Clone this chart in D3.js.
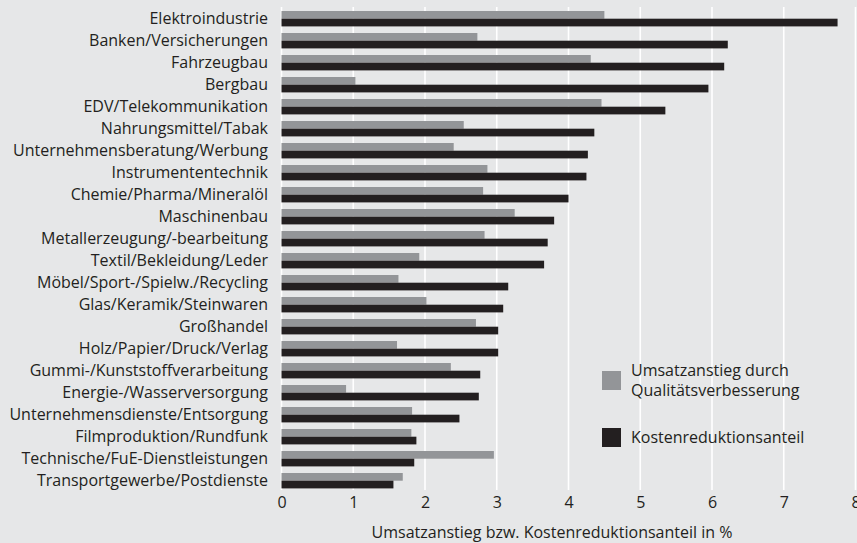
<!DOCTYPE html>
<html><head><meta charset="utf-8">
<script src="https://cdn.jsdelivr.net/npm/d3@7"></script>
<style>
html,body{margin:0;padding:0;background:#e6e7e8;}
svg{display:block;}
text{font-family:"Open Sans", Lato, sans-serif;fill:#231f20;}
</style></head><body>
<svg id="chart" width="857" height="543"></svg>
<script>
const categories = ["Elektroindustrie","Banken/Versicherungen","Fahrzeugbau","Bergbau","EDV/Telekommunikation","Nahrungsmittel/Tabak","Unternehmensberatung/Werbung","Instrumententechnik","Chemie/Pharma/Mineralöl","Maschinenbau","Metallerzeugung/-bearbeitung","Textil/Bekleidung/Leder","Möbel/Sport-/Spielw./Recycling","Glas/Keramik/Steinwaren","Großhandel","Holz/Papier/Druck/Verlag","Gummi-/Kunststoffverarbeitung","Energie-/Wasserversorgung","Unternehmensdienste/Entsorgung","Filmproduktion/Rundfunk","Technische/FuE-Dienstleistungen","Transportgewerbe/Postdienste"];
const umsatzanstieg = [4.50,2.73,4.31,1.03,4.46,2.54,2.40,2.87,2.81,3.25,2.83,1.92,1.63,2.02,2.71,1.61,2.36,0.90,1.82,1.81,2.96,1.69];
const kostenreduktion = [7.75,6.22,6.17,5.95,5.35,4.36,4.27,4.25,4.00,3.80,3.71,3.66,3.16,3.09,3.02,3.02,2.77,2.75,2.48,1.88,1.85,1.56];
const seriesNames = ["Umsatzanstieg durch|Qualitätsverbesserung","Kostenreduktionsanteil"];
const xTicks = [0,1,2,3,4,5,6,7,8];
const xTitle = "Umsatzanstieg bzw. Kostenreduktionsanteil in %";
const colors = ["#939598","#231f20"];

const svg = d3.select("#chart");
svg.append("rect").attr("width",857).attr("height",543).attr("fill","#e6e7e8");

const x = d3.scaleLinear().domain([0,8]).range([281.5,855.5]);
const y = d3.scaleBand().domain(categories).range([7.7,491.7]).paddingInner(0.3).paddingOuter(0.15);
const sub = d3.scaleBand().domain([0,1]).range([0,y.bandwidth()]);

// gridlines
svg.append("g").selectAll("line").data(xTicks).join("line")
  .attr("x1",d=>x(d)).attr("x2",d=>x(d)).attr("y1",7).attr("y2",490)
  .attr("stroke","#ffffff").attr("stroke-width",1.6);

const rows = svg.append("g").selectAll("g").data(categories).join("g")
  .attr("transform",d=>`translate(0,${y(d)})`);
rows.append("rect").attr("x",x(0)).attr("y",sub(0)).attr("height",sub.bandwidth())
  .attr("width",(d,i)=>x(umsatzanstieg[i])-x(0)).attr("fill",colors[0]);
rows.append("rect").attr("x",x(0)).attr("y",sub(1)).attr("height",sub.bandwidth())
  .attr("width",(d,i)=>x(kostenreduktion[i])-x(0)).attr("fill",colors[1]);

// category labels
svg.append("g").selectAll("text").data(categories).join("text")
  .attr("x",268).attr("y",d=>y(d)+y.bandwidth()/2).attr("dy","0.36em")
  .attr("text-anchor","end").attr("font-size",16).text(d=>d);

// x axis labels
const xAxis = d3.axisBottom(x).tickValues(xTicks).tickSize(0).tickPadding(0).tickFormat(d3.format("d"));
const gx = svg.append("g").attr("transform","translate(0,497)").call(xAxis);
gx.select(".domain").remove();
gx.selectAll("text").attr("font-size",16).attr("font-family","'Open Sans', sans-serif").attr("fill","#231f20").attr("dy","0.71em");

svg.append("text").attr("x",552).attr("y",538).attr("text-anchor","middle").attr("font-size",16).text(xTitle);

// legend
const leg = svg.append("g");
const legY = [371,428];
seriesNames.forEach((n,i)=>{
  leg.append("rect").attr("x",602).attr("y",legY[i]).attr("width",19).attr("height",19).attr("fill",colors[i]);
  const lines = n.split("|");
  const t = leg.append("text").attr("font-size",16).attr("x",631);
  const y0 = lines.length===2 ? legY[i]+9.5-10 : legY[i]+9.5;
  lines.forEach((l,j)=>t.append("tspan").attr("x",631).attr("y",y0+j*20).attr("dy","0.36em").text(l));
});
</script>
</body></html>
